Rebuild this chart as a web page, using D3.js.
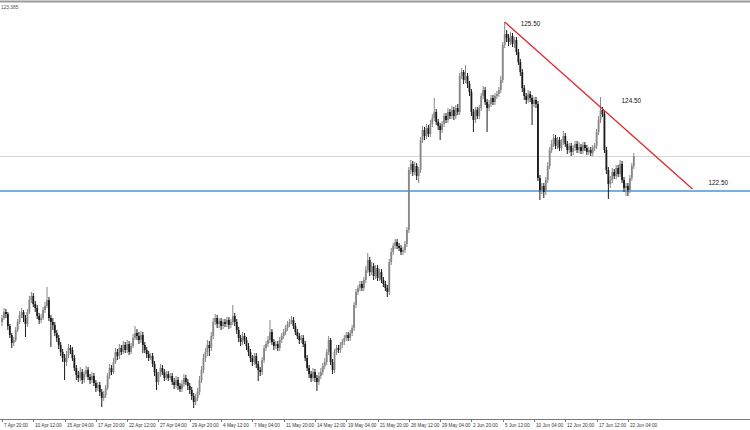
<!DOCTYPE html>
<html>
<head>
<meta charset="utf-8">
<script src="https://cdn.jsdelivr.net/npm/d3@7"></script>
<style>
	html, body { margin: 0; padding: 0; background: #fff; }
	svg { display: block; font-family: "Liberation Sans", Arial, sans-serif; }
</style>
</head>
<body>
<div id="chart"></div>
<script>
// H4 bars, 7 Apr 20:00 .. 22 Jun 16:00
const firstOpen = 119.86;

const closes = [
	119.94,120.06,120.02,119.78,119.60,119.44,119.50,119.70,119.86,120.00,
	120.06,119.94,119.82,120.06,120.30,120.38,120.22,120.14,119.98,119.90,
	119.94,120.10,120.18,120.30,119.94,119.86,119.80,119.64,119.54,119.40,
	119.26,119.14,119.06,119.20,119.34,119.30,119.14,118.94,118.80,118.74,
	118.86,118.70,118.82,118.90,118.76,118.70,118.78,118.64,118.54,118.60,
	118.46,118.34,118.40,118.54,118.78,118.94,118.86,119.06,119.26,119.18,
	119.34,119.26,119.40,119.30,119.42,119.26,119.38,119.54,119.64,119.58,
	119.50,119.60,119.40,119.30,119.22,119.14,119.18,119.02,118.86,118.66,
	118.80,118.94,118.86,118.74,118.82,118.74,118.78,118.66,118.60,118.70,
	118.58,118.52,118.62,118.74,118.66,118.58,118.50,118.38,118.26,118.34,
	118.46,118.70,118.90,119.14,119.26,119.40,119.34,119.58,119.86,119.94,
	119.82,119.88,119.78,119.86,119.82,119.90,119.80,119.86,119.98,119.86,
	119.70,119.54,119.46,119.58,119.50,119.38,119.26,119.14,119.06,119.18,
	119.02,118.90,118.86,119.10,119.34,119.42,119.50,119.66,119.46,119.38,
	119.42,119.34,119.50,119.58,119.66,119.74,119.82,119.86,119.90,119.78,
	119.66,119.58,119.50,119.54,119.42,119.14,118.94,118.82,118.74,118.86,
	118.74,118.66,118.78,118.86,118.98,119.06,119.26,119.50,119.06,118.90,
	119.26,119.34,119.30,119.40,119.46,119.54,119.60,119.54,119.64,119.74,
	120.20,120.46,120.54,120.62,120.54,120.70,120.90,121.10,120.86,120.98,
	120.78,120.94,120.74,120.86,120.70,120.62,120.54,120.46,121.06,121.26,
	121.38,121.46,121.38,121.34,121.26,121.30,121.42,121.70,122.90,123.02,
	122.86,122.98,122.78,122.90,123.50,123.70,123.58,123.74,123.62,123.82,
	123.94,124.06,123.86,123.78,123.70,123.82,123.98,123.90,124.06,123.98,
	124.10,123.98,124.14,124.06,124.78,124.86,124.70,124.78,124.62,124.46,
	124.06,123.90,124.10,123.98,124.14,124.38,124.50,124.26,124.14,124.22,
	124.34,124.26,124.38,124.42,124.50,124.70,125.40,125.62,125.54,125.46,
	125.58,125.42,125.50,125.26,125.06,124.86,124.54,124.38,124.30,124.42,
	124.34,124.22,124.30,124.22,122.74,122.50,122.58,122.46,122.70,122.98,
	123.30,123.42,123.54,123.38,123.50,123.34,123.46,123.58,123.42,123.30,
	123.38,123.26,123.34,123.42,123.30,123.36,123.28,123.40,123.34,123.26,
	123.30,123.24,123.34,123.38,123.66,123.90,124.10,124.02,123.30,122.90,
	122.62,122.70,122.86,122.78,122.94,122.82,123.02,122.70,122.54,122.58,
	122.50,122.74,122.98,123.18
];

const highs = [
	120.00,120.14,120.12,120.06,119.82,119.64,119.56,119.76,119.92,120.08,
	120.14,120.10,120.00,120.12,120.38,120.46,120.44,120.28,120.20,120.04,
	120.02,120.16,120.26,120.56,120.36,120.00,119.94,119.86,119.70,119.60,
	119.46,119.32,119.22,119.28,119.42,119.40,119.36,119.20,119.00,118.88,
	118.96,118.92,118.88,118.98,118.96,118.82,118.86,118.84,118.70,118.66,
	118.66,118.52,118.48,118.60,118.84,119.02,119.00,119.14,119.34,119.32,
	119.42,119.40,119.48,119.46,119.50,119.48,119.44,119.62,119.78,119.72,
	119.66,119.68,119.66,119.46,119.36,119.28,119.24,119.24,119.08,118.92,
	118.86,119.02,119.00,118.92,118.88,118.88,118.84,118.84,118.74,118.78,
	118.76,118.64,118.70,118.82,118.80,118.72,118.64,118.56,118.44,118.42,
	118.54,118.78,118.98,119.22,119.34,119.50,119.48,119.66,119.94,120.02,
	120.00,119.94,119.94,119.92,119.92,119.96,119.96,119.92,120.20,120.04,
	119.92,119.76,119.60,119.66,119.64,119.56,119.44,119.32,119.20,119.24,
	119.24,119.08,118.96,119.16,119.40,119.48,119.58,119.90,119.72,119.52,
	119.48,119.48,119.56,119.64,119.72,119.80,119.88,119.92,119.98,119.96,
	119.84,119.72,119.64,119.60,119.60,119.48,119.20,119.00,118.88,118.94,
	118.92,118.80,118.86,118.94,119.04,119.14,119.32,119.58,119.54,119.12,
	119.32,119.40,119.40,119.46,119.52,119.60,119.66,119.66,119.70,119.80,
	120.26,120.52,120.60,120.68,120.68,120.76,120.98,121.24,121.16,121.06,
	121.04,121.00,121.00,120.92,120.92,120.76,120.68,120.60,121.12,121.34,
	121.44,121.52,121.52,121.44,121.40,121.36,121.48,121.76,122.96,123.10,
	123.08,123.06,123.04,122.96,123.56,123.78,123.76,123.82,123.80,123.90,
	124.02,124.34,124.12,123.92,123.84,123.88,124.04,124.04,124.14,124.12,
	124.18,124.16,124.20,124.22,124.84,124.94,124.90,125.00,124.84,124.68,
	124.52,124.12,124.16,124.16,124.20,124.44,124.58,124.56,124.32,124.30,
	124.40,124.40,124.44,124.48,124.56,124.78,125.46,125.86,125.70,125.62,
	125.66,125.64,125.56,125.56,125.32,125.12,124.92,124.60,124.44,124.50,
	124.48,124.40,124.36,124.36,124.28,122.80,122.64,122.64,122.76,123.06,
	123.36,123.50,123.62,123.60,123.56,123.56,123.52,123.68,123.64,123.48,
	123.44,123.44,123.40,123.48,123.48,123.46,123.42,123.46,123.46,123.40,
	123.36,123.36,123.40,123.44,123.72,123.98,124.36,124.16,124.08,123.36,
	122.96,122.78,122.94,122.92,123.00,123.00,123.10,123.08,122.76,122.64,
	122.64,122.80,123.04,123.24
];

const lows = [
	119.78,119.90,119.94,119.70,119.54,119.34,119.38,119.46,119.66,119.82,
	119.94,119.86,119.56,119.76,120.02,120.24,120.16,120.06,119.92,119.82,
	119.84,119.90,120.04,120.14,119.88,119.36,119.70,119.58,119.46,119.32,
	119.18,119.06,118.70,118.98,119.14,119.22,119.08,118.88,118.70,118.66,
	118.68,118.62,118.64,118.76,118.70,118.62,118.64,118.58,118.46,118.48,
	118.38,118.16,118.28,118.34,118.50,118.72,118.80,118.82,119.02,119.10,
	119.12,119.20,119.22,119.24,119.24,119.20,119.22,119.34,119.50,119.50,
	119.42,119.44,119.24,119.24,119.14,119.08,119.10,118.96,118.78,118.50,
	118.60,118.76,118.80,118.68,118.70,118.68,118.70,118.60,118.52,118.54,
	118.50,118.46,118.46,118.56,118.60,118.50,118.42,118.30,118.14,118.20,
	118.28,118.40,118.64,118.84,119.06,119.18,119.18,119.28,119.52,119.80,
	119.74,119.74,119.70,119.72,119.76,119.76,119.72,119.74,119.80,119.78,
	119.62,119.46,119.38,119.40,119.42,119.30,119.18,119.06,118.98,119.00,
	118.94,118.68,118.78,118.80,119.04,119.28,119.36,119.44,119.40,119.30,
	119.32,119.28,119.28,119.44,119.52,119.60,119.68,119.76,119.82,119.72,
	119.60,119.52,119.42,119.44,119.36,119.08,118.88,118.74,118.66,118.68,
	118.66,118.48,118.60,118.72,118.80,118.92,119.00,119.20,119.00,118.82,
	118.84,119.20,119.24,119.24,119.34,119.40,119.48,119.48,119.48,119.58,
	119.68,120.14,120.40,120.48,120.48,120.48,120.64,120.84,120.78,120.80,
	120.70,120.72,120.68,120.68,120.64,120.56,120.48,120.36,120.40,121.00,
	121.20,121.32,121.32,121.28,121.20,121.20,121.24,121.36,121.64,122.82,
	122.78,122.80,122.70,122.64,122.84,123.44,123.50,123.52,123.56,123.56,
	123.76,123.88,123.80,123.70,123.50,123.64,123.76,123.84,123.84,123.92,
	123.92,123.90,123.92,124.00,124.00,124.72,124.62,124.64,124.54,124.38,
	123.98,123.66,123.84,123.92,123.92,124.08,124.32,124.20,123.66,124.08,
	124.16,124.20,124.20,124.32,124.36,124.44,124.64,125.34,125.46,125.38,
	125.40,125.36,125.34,125.20,125.00,124.78,124.46,124.30,124.22,124.24,
	124.26,123.80,124.16,124.14,122.68,122.30,122.42,122.34,122.40,122.64,
	122.92,123.24,123.36,123.32,123.32,123.28,123.28,123.40,123.36,123.22,
	123.24,123.18,123.20,123.28,123.24,123.24,123.22,123.22,123.28,123.20,
	123.20,123.18,123.18,123.28,123.32,123.60,123.84,123.96,123.24,122.82,
	122.32,122.54,122.64,122.72,122.72,122.76,122.76,122.64,122.46,122.38,
	122.38,122.44,122.68,122.92
];

const dateLabels = [
	"7 Apr 20:00", "10 Apr 12:00", "15 Apr 04:00", "17 Apr 20:00", "22 Apr 12:00",
	"27 Apr 04:00", "29 Apr 20:00", "4 May 12:00", "7 May 04:00", "11 May 20:00",
	"14 May 12:00", "19 May 04:00", "21 May 20:00", "26 May 12:00", "29 May 04:00",
	"2 Jun 20:00", "5 Jun 12:00", "10 Jun 04:00", "12 Jun 20:00", "17 Jun 12:00",
	"22 Jun 04:00"
];
const barsPerLabel = 16;

const topPrice = "123.385";
const supportLevel = 122.48;
const trendStart = { i: 257, p: 125.86 };
const trendTouch = { i: 306, p: 124.36 };
const trendEnd = { i: 353, p: 122.52 };
const levelLabels = ["125.50", "124.50", "122.50"];

const W = 750, H = 430;
const axisY = 419;

const svg = d3.select('#chart').append('svg')
	.attr('width', W)
	.attr('height', H);

const x = d3.scaleLinear()
	.domain([0, 320])
	.range([2, 2 + 1.956 * 320]);

const y = d3.scaleLinear()
	.domain([126.30, 117.90])
	.range([0, 420]);

// frame
svg.append('rect')
	.attr('x', 0).attr('y', 0.5)
	.attr('width', W).attr('height', 2)
	.attr('fill', '#9a9a9a');

svg.append('text')
	.attr('x', 1).attr('y', 8.5)
	.attr('font-size', 4.8)
	.attr('fill', '#555')
	.text(topPrice);

// level lines
svg.append('line')
	.attr('x1', 0).attr('x2', W)
	.attr('y1', y(closes[closes.length - 1]) + 0.5)
	.attr('y2', y(closes[closes.length - 1]) + 0.5)
	.attr('stroke', '#d4d4d4')
	.attr('stroke-width', 1);

svg.append('line')
	.attr('x1', 0).attr('x2', W)
	.attr('y1', y(supportLevel))
	.attr('y2', y(supportLevel))
	.attr('stroke', '#4a95d6')
	.attr('stroke-width', 1.3);

const bars = closes.map((c, i) => ({
	i: i,
	o: i ? closes[i - 1] : firstOpen,
	h: highs[i],
	l: lows[i],
	c: c
}));

const color = d => d.c > d.o ? '#868686' : '#1a1a1a';

const g = svg.append('g');

g.selectAll('line.wick')
	.data(bars)
	.enter().append('line')
	.attr('class', 'wick')
	.attr('x1', d => x(d.i))
	.attr('x2', d => x(d.i))
	.attr('y1', d => y(d.h))
	.attr('y2', d => y(d.l))
	.attr('stroke', color)
	.attr('stroke-width', 1);

g.selectAll('rect.body')
	.data(bars)
	.enter().append('rect')
	.attr('class', 'body')
	.attr('x', d => x(d.i) - 0.9)
	.attr('width', 1.8)
	.attr('y', d => y(Math.max(d.o, d.c)))
	.attr('height', d => Math.max(1, Math.abs(y(d.o) - y(d.c))))
	.attr('fill', color);

// trend line
svg.append('line')
	.attr('x1', x(trendStart.i)).attr('y1', y(trendStart.p))
	.attr('x2', x(trendEnd.i)).attr('y2', y(trendEnd.p))
	.attr('stroke', '#e3262a')
	.attr('stroke-width', 1.3);

const anchors = [
	[x(trendStart.i) + 16, y(trendStart.p) + 4],
	[x(trendTouch.i) + 21, y(trendTouch.p) + 6],
	[x(trendEnd.i) + 16, y(trendEnd.p) - 4]
];

svg.selectAll('text.level')
	.data(levelLabels)
	.enter().append('text')
	.attr('class', 'level')
	.attr('x', (d, k) => anchors[k][0])
	.attr('y', (d, k) => anchors[k][1])
	.attr('font-size', 6.4)
	.attr('fill', '#111')
	.text(d => d);

// time axis
svg.append('line')
	.attr('x1', 0).attr('x2', W)
	.attr('y1', axisY + 0.5).attr('y2', axisY + 0.5)
	.attr('stroke', '#7a7a7a')
	.attr('stroke-width', 1);

const ticks = svg.selectAll('g.tick')
	.data(dateLabels)
	.enter().append('g')
	.attr('class', 'tick')
	.attr('transform', (d, k) => `translate(${Math.round(x(k * barsPerLabel)) + 0.5},${axisY})`);

ticks.append('line')
	.attr('y1', 0).attr('y2', 3)
	.attr('stroke', '#7a7a7a');

ticks.append('text')
	.attr('x', 1.5)
	.attr('y', 8)
	.attr('font-size', 4.7)
	.attr('fill', '#333')
	.text(d => d);
</script>
</body>
</html>
